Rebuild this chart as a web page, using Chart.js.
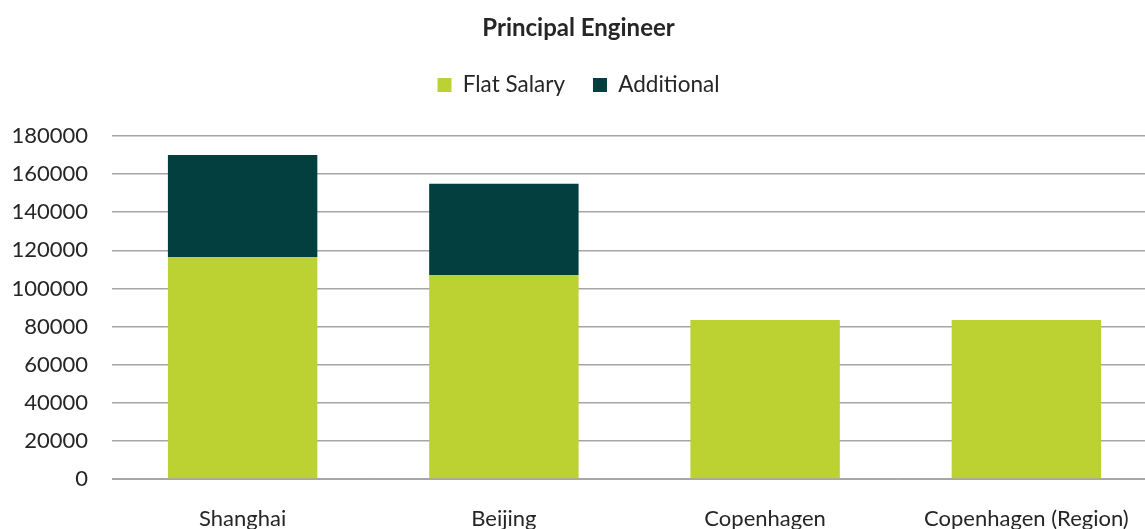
<!DOCTYPE html>
<html>
<head>
<meta charset="utf-8">
<script src="https://cdn.jsdelivr.net/npm/chart.js@4.4.0/dist/chart.umd.min.js"></script>
<style>
  html, body { margin: 0; padding: 0; background: #fff; overflow: hidden; }
  .wrap { width: 1145px; height: 529px; overflow: hidden; position: relative; }
  .box { width: 1157px; height: 550px; position: absolute; left: 0; top: 0; }
</style>
</head>
<body>
<div class="wrap"><div class="box"><canvas id="myChart"></canvas></div></div>
<script>
const cities = ['Shanghai', 'Beijing', 'Copenhagen', 'Copenhagen (Region)']
const flatSalary = [116500, 107000, 83500, 83500]
const additional = [53500, 48000, 0, 0]
const yTicks = [0, 20000, 40000, 60000, 80000, 100000, 120000, 140000, 160000, 180000]

const textColor = '#262626'
const fontFam = 'Lato, "Open Sans", sans-serif'

const ctx = document.getElementById('myChart');
let myChart = new Chart(ctx, {
    type: 'bar',
    data: {
        labels: cities,
        datasets: [{
            label: 'Flat Salary',
            data: flatSalary,
            backgroundColor: '#bcd232',
            categoryPercentage: 1,
            barPercentage: 0.572
        }, {
            label: 'Additional',
            data: additional,
            backgroundColor: '#033f3f',
            categoryPercentage: 1,
            barPercentage: 0.572
        }]
    },
    options: {
        responsive: true,
        maintainAspectRatio: false,
        animation: false,
        layout: { padding: 0 },
        plugins: {
            title: {
                display: true,
                text: 'Principal Engineer',
                color: textColor,
                font: { family: fontFam, size: 24, weight: 'bold' },
                padding: { top: 14, bottom: 3 }
            },
            // empty subtitle used as a spacer between legend and plot
            subtitle: {
                display: true,
                text: '',
                weight: 500,
                font: { size: 1 },
                padding: { top: 0, bottom: 28.5 }
            },
            legend: {
                labels: {
                    color: textColor,
                    font: { family: fontFam, size: 22.5 },
                    boxWidth: 14,
                    boxHeight: 14,
                    padding: 28
                }
            },
            tooltip: { enabled: false }
        },
        scales: {
            x: {
                stacked: true,
                grid: { display: false, drawTicks: false },
                border: { color: '#a6a6a6', width: 1 },
                ticks: {
                    color: textColor,
                    font: { family: fontFam, size: 22 },
                    padding: 27,
                    maxRotation: 0
                },
                afterFit: (scale) => { scale.height = 71 }
            },
            y: {
                stacked: true,
                min: 0,
                max: 180000,
                afterBuildTicks: (scale) => { scale.ticks = yTicks.map(v => ({ value: v })) },
                grid: { color: '#a6a6a6', lineWidth: 1.5, drawTicks: false },
                border: { display: false },
                ticks: {
                    color: textColor,
                    font: { family: fontFam, size: 22 },
                    padding: 24,
                    callback: (v) => String(v)
                },
                afterFit: (scale) => { scale.width = 112 }
            }
        }
    }
});
</script>
</body>
</html>
